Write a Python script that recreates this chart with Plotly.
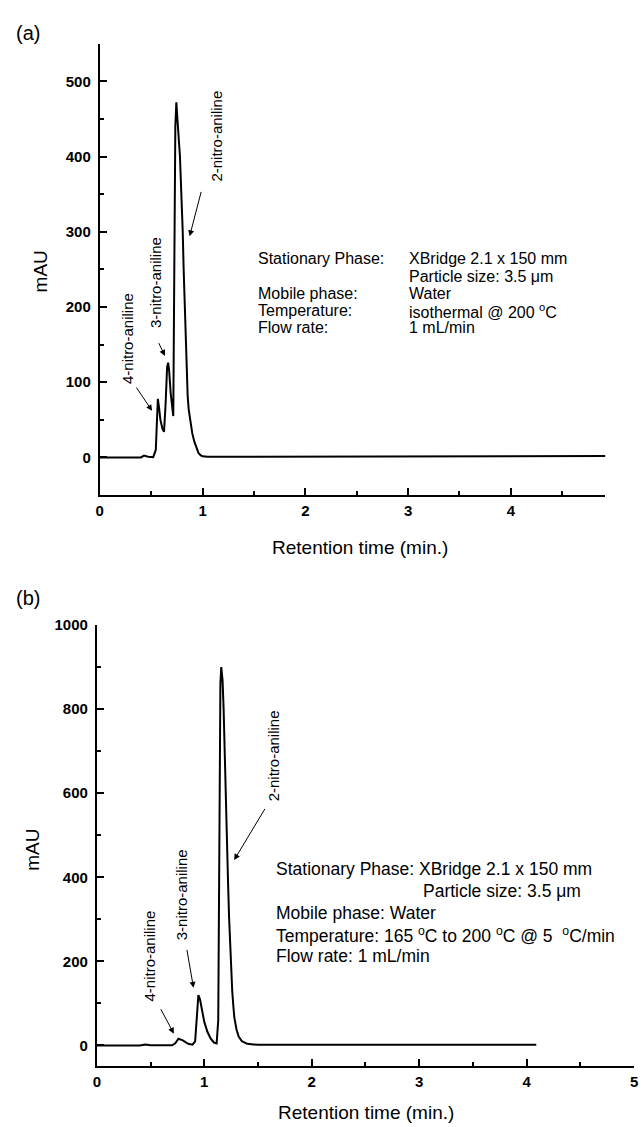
import plotly.graph_objects as go

W, H = 643, 1127

# ---------------- data: panel (a) isothermal ----------------
time_a = [0.0, 0.40, 0.43, 0.47, 0.52, 0.545, 0.555, 0.565, 0.575, 0.59, 0.61, 0.625,
          0.64, 0.655, 0.665, 0.675, 0.69, 0.705, 0.715, 0.725, 0.735, 0.745, 0.755,
          0.77, 0.78, 0.795, 0.807, 0.816, 0.826, 0.835, 0.845, 0.855, 0.865, 0.88,
          0.90, 0.92, 0.94, 0.96, 0.98, 1.00, 1.05, 2.0, 3.0, 4.0, 4.92]
mau_a = [0, 0, 2.5, 1, 0.5, 10, 45, 78, 68, 50, 38, 34,
         70, 120, 126, 115, 85, 60, 55, 250, 440, 472, 455,
         420, 400, 350, 300, 250, 200, 150, 105, 82, 64, 47,
         32, 21, 12, 6, 3, 1.5, 1, 1, 1, 1.5, 2]

# ---------------- data: panel (b) temperature gradient ----------------
time_b = [0.0, 0.40, 0.45, 0.50, 0.70, 0.73, 0.76, 0.80, 0.85, 0.89, 0.915, 0.93,
          0.945, 0.96, 0.98, 1.00, 1.03, 1.06, 1.09, 1.115, 1.13, 1.14, 1.15, 1.158,
          1.17, 1.18, 1.19, 1.20, 1.21, 1.22, 1.23, 1.24, 1.25, 1.26, 1.27, 1.28,
          1.30, 1.32, 1.35, 1.40, 1.50, 2.0, 3.0, 4.09]
mau_b = [0, 0, 2.5, 0.5, 0.5, 5, 16, 12, 4, 2, 10, 80,
         120, 110, 80, 56, 32, 16, 7, 5, 60, 480, 860, 900,
         870, 800, 680, 580, 490, 400, 310, 235, 175, 130, 95, 66,
         38, 21, 10, 4, 1.5, 1, 1.5, 1.5]

xticks_a = [0, 1, 2, 3, 4]
yticks_a = [0, 100, 200, 300, 400, 500]
xticks_b = [0, 1, 2, 3, 4, 5]
yticks_b = [0, 200, 400, 600, 800, 1000]

# peak labels: (text, text_t, text_y, tail_t, tail_y, head_t, head_y)
peaks_a = [("2-nitro-aniline", 1.134, 427, 0.99, 355, 0.874, 294),
           ("3-nitro-aniline", 0.548, 232, 0.567, 154, 0.634, 135),
           ("4-nitro-aniline", 0.269, 158, 0.346, 95, 0.509, 62)]
peaks_b = [("2-nitro-aniline", 1.645, 689, 1.572, 566, 1.278, 441),
           ("3-nitro-aniline", 0.79, 359, 0.836, 231, 0.90, 137),
           ("4-nitro-aniline", 0.487, 212, 0.588, 90, 0.717, 28)]

cond_a_left = ["Stationary Phase:", "", "Mobile phase:", "Temperature:", "Flow rate:"]
cond_a_right = ["XBridge 2.1 x 150 mm", "Particle size: 3.5 \u03bcm", "Water",
                "isothermal @ 200 <sup>o</sup>C", "1 mL/min"]
cond_b = ["Stationary Phase: XBridge 2.1 x 150 mm",
          "Particle size: 3.5 \u03bcm",
          "Mobile phase: Water",
          "Temperature: 165 <sup>o</sup>C to 200 <sup>o</sup>C @ 5  <sup>o</sup>C/min",
          "Flow rate: 1 mL/min"]

FONT = "Liberation Sans"


def px_x(p):
    return p / W


def px_y(p):
    return 1 - p / H


fig = go.Figure()
fig.add_trace(go.Scatter(x=time_a, y=mau_a, mode="lines",
                         line=dict(color="black", width=2), xaxis="x", yaxis="y",
                         showlegend=False))
fig.add_trace(go.Scatter(x=time_b, y=mau_b, mode="lines",
                         line=dict(color="black", width=2), xaxis="x2", yaxis="y2",
                         showlegend=False))

axis_common = dict(showline=True, linewidth=2, linecolor="black", ticks="inside",
                   ticklen=7, tickwidth=2, tickcolor="black", showgrid=False,
                   zeroline=False, mirror=False,
                   tickfont=dict(family=FONT, size=15, color="black", weight="bold"))

fig.update_layout(
    width=W, height=H, margin=dict(l=0, r=0, t=0, b=0),
    paper_bgcolor="white", plot_bgcolor="white", showlegend=False,
    xaxis=dict(domain=[px_x(97), px_x(609)], range=[0, 4.92], anchor="y",
               tickvals=xticks_a, ticklabelstandoff=1,
               minor=dict(ticks="inside", ticklen=4, tickwidth=2, tickcolor="black", dtick=0.5),
               **axis_common),
    yaxis=dict(domain=[px_y(490), px_y(35)], range=[-50, 550], anchor="x",
               tickvals=yticks_a, ticklabelstandoff=4,
               minor=dict(ticks="inside", ticklen=4, tickwidth=2, tickcolor="black", dtick=50, tick0=0),
               **axis_common),
    xaxis2=dict(domain=[px_x(94), px_x(638)], range=[0, 5], anchor="y2",
                tickvals=xticks_b, ticklabelstandoff=1,
                minor=dict(ticks="inside", ticklen=4, tickwidth=2, tickcolor="black", dtick=0.5),
                **axis_common),
    yaxis2=dict(domain=[px_y(1066), px_y(621)], range=[-50, 1000], anchor="x2",
                tickvals=yticks_b, ticklabelstandoff=4,
                minor=dict(ticks="inside", ticklen=4, tickwidth=2, tickcolor="black", dtick=100, tick0=0),
                **axis_common),
)


def paper_text(txt, px, py, size, anchor="center", angle=0):
    return dict(text=txt, x=px_x(px), y=px_y(py), xref="paper", yref="paper",
                xanchor=anchor, yanchor="middle", showarrow=False, textangle=angle,
                font=dict(family=FONT, size=size, color="black"))


ann = []
# panel labels and axis titles
ann.append(paper_text("(a)", 24, 24, 20))
ann.append(paper_text("(b)", 24, 594, 20))
ann.append(paper_text("mAU", 37, 265, 19, angle=-90))
ann.append(paper_text("mAU", 29, 848, 19, angle=-90))
ann.append(paper_text("Retention time (min.)", 360, 543, 19))
ann.append(paper_text("Retention time (min.)", 367, 1112, 19))

# peak labels and arrows
for peaks, xr, yr in ((peaks_a, "x", "y"), (peaks_b, "x2", "y2")):
    for txt, tx, ty, ax_, ay_, hx, hy in peaks:
        ann.append(dict(text=txt, x=tx, y=ty, xref=xr, yref=yr, showarrow=False,
                        xanchor="center", yanchor="middle",
                        textangle=-90, font=dict(family=FONT, size=15, color="black")))
        ann.append(dict(text="", x=hx, y=hy, ax=ax_, ay=ay_, xref=xr, yref=yr,
                        axref=xr, ayref=yr, showarrow=True, arrowhead=2, arrowsize=1.2,
                        arrowwidth=1, arrowcolor="black"))

# condition text, panel (a)
rows_a = [252, 269.5, 287, 304, 321]
for i, py in enumerate(rows_a):
    if cond_a_left[i]:
        ann.append(paper_text(cond_a_left[i], 255, py, 16, anchor="left"))
    ann.append(paper_text(cond_a_right[i], 408, py, 16, anchor="left"))

# condition text, panel (b)
rows_b = [867, 889, 911, 933, 955]
xs_b = [273, 422, 273, 273, 273]
for txt, py, pxx in zip(cond_b, rows_b, xs_b):
    ann.append(paper_text(txt, pxx, py, 17.5, anchor="left"))

fig.update_layout(annotations=ann)
fig.write_html("out.html")
